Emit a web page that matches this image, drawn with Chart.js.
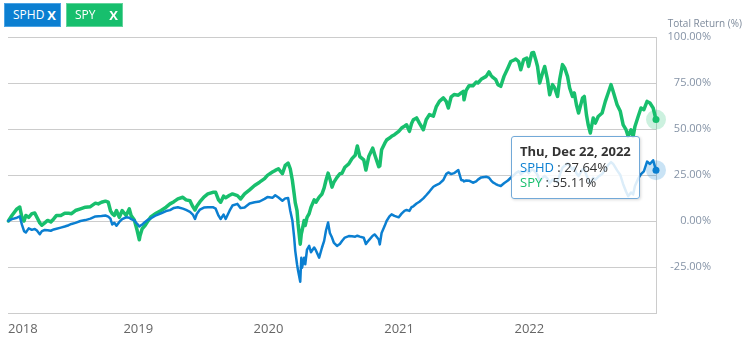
<!DOCTYPE html>
<html>
<head>
<meta charset="utf-8">
<script src="https://cdn.jsdelivr.net/npm/chart.js@4.4.0/dist/chart.umd.min.js"></script>
<style>
html,body{margin:0;padding:0;background:#fff;}
#wrap{position:relative;width:747px;height:340px;font-family:'Open Sans',sans-serif;overflow:hidden;}
#c{position:absolute;left:0;top:0;}
.btn{position:absolute;top:3px;height:22px;line-height:22px;color:#fff;font-size:12px;box-sizing:content-box;border:1px solid;}
.btn .t{position:absolute;left:8px;top:0;}
.btn .x{position:absolute;right:4px;top:0;font-weight:bold;font-size:13px;}
#ytitle{position:absolute;right:5px;top:16px;font-size:10px;color:#7d8a9b;white-space:nowrap;}
#tip{position:absolute;background:rgba(255,255,255,0.86);border:1px solid #72a9d8;border-radius:3px;padding:7px 8px 8px 8px;font-size:13px;line-height:15px;color:#333;white-space:nowrap;box-shadow:1px 1px 3px rgba(0,0,0,0.15);}
#tip .tt{font-weight:bold;margin-bottom:1px;}
</style>
</head>
<body>
<div id="wrap">
  <canvas id="c" width="747" height="340"></canvas>
  <div class="btn" style="left:4px;width:55px;background:#0b7fd1;border-color:#4aa3e4;"><span class="t">SPHD</span><span class="x">X</span></div>
  <div class="btn" style="left:66px;width:55px;background:#17bf6d;border-color:#62d49c;"><span class="t">SPY</span><span class="x">X</span></div>
  <div id="ytitle">Total Return (%)</div>
  <div id="tip"></div>
</div>
<script>
const dates = [
"2018-01-02","2018-01-12","2018-01-26","2018-02-03","2018-02-09","2018-02-15","2018-02-20","2018-02-28","2018-03-09","2018-03-17",
"2018-03-23","2018-03-31","2018-04-06","2018-04-14","2018-04-22","2018-05-01","2018-05-09","2018-05-17","2018-05-29","2018-06-09",
"2018-06-20","2018-06-28","2018-07-09","2018-07-23","2018-08-06","2018-08-20","2018-09-03","2018-09-11","2018-09-20","2018-10-01",
"2018-10-09","2018-10-15","2018-10-20","2018-10-26","2018-11-01","2018-11-09","2018-11-17","2018-11-28","2018-12-07","2018-12-12",
"2018-12-21","2018-12-26","2018-12-29","2019-01-04","2019-01-06","2019-01-12","2019-01-20","2019-01-29","2019-02-06","2019-02-20",
"2019-03-06","2019-03-20","2019-03-31","2019-04-11","2019-04-22","2019-05-06","2019-05-15","2019-05-26","2019-06-03","2019-06-09",
"2019-06-14","2019-06-23","2019-07-04","2019-07-15","2019-07-29","2019-08-06","2019-08-14","2019-08-20","2019-08-28","2019-09-03",
"2019-09-14","2019-09-22","2019-10-06","2019-10-15","2019-10-26","2019-11-09","2019-11-23","2019-12-07","2019-12-21","2019-12-29",
"2020-01-12","2020-01-20","2020-01-29","2020-02-09","2020-02-17","2020-02-25","2020-03-02","2020-03-08","2020-03-13","2020-03-16",
"2020-03-21","2020-03-24","2020-03-30","2020-04-02","2020-04-04","2020-04-10","2020-04-13","2020-04-18","2020-04-24","2020-04-29",
"2020-05-08","2020-05-13","2020-05-22","2020-05-30","2020-06-05","2020-06-10","2020-06-16","2020-06-21","2020-06-27","2020-07-02",
"2020-07-11","2020-07-19","2020-07-25","2020-08-02","2020-08-13","2020-08-22","2020-08-31","2020-09-06","2020-09-13","2020-09-24",
"2020-09-30","2020-10-08","2020-10-19","2020-10-25","2020-11-05","2020-11-08","2020-11-13","2020-11-22","2020-11-27","2020-12-05",
"2020-12-11","2020-12-19","2020-12-31","2021-01-08","2021-01-16","2021-01-22","2021-01-30","2021-02-05","2021-02-10","2021-02-19",
"2021-02-27","2021-03-10","2021-03-18","2021-03-27","2021-04-07","2021-04-15","2021-04-24","2021-05-05","2021-05-13","2021-05-19",
"2021-05-27","2021-06-04","2021-06-16","2021-06-24","2021-06-30","2021-07-02","2021-07-08","2021-07-16","2021-07-27","2021-08-05",
"2021-08-10","2021-08-19","2021-09-02","2021-09-10","2021-09-16","2021-09-21","2021-09-29","2021-10-05","2021-10-13","2021-10-22",
"2021-11-02","2021-11-10","2021-11-19","2021-11-24","2021-12-02","2021-12-08","2021-12-16","2021-12-25","2021-12-30","2022-01-08",
"2022-01-13","2022-01-19","2022-01-24","2022-01-30","2022-02-07","2022-02-13","2022-02-21","2022-02-27","2022-03-07","2022-03-13",
"2022-03-21","2022-03-27","2022-04-04","2022-04-10","2022-04-18","2022-04-24","2022-05-02","2022-05-07","2022-05-13","2022-05-19",
"2022-05-30","2022-06-04","2022-06-10","2022-06-15","2022-06-21","2022-06-29","2022-07-05","2022-07-13","2022-07-24","2022-08-02",
"2022-08-10","2022-08-18","2022-08-24","2022-09-04","2022-09-13","2022-09-21","2022-09-29","2022-10-05","2022-10-13","2022-10-19",
"2022-10-24","2022-11-02","2022-11-10","2022-11-18","2022-11-27","2022-12-05","2022-12-14","2022-12-22"
];

const sphd = [
0,1,1.8,2.5,-2,-5.5,-6.2,-4,-4.8,-4.3,
-5.2,-7.2,-5.5,-4.9,-5,-5.3,-4.6,-4.2,-3.6,-3,
-2.3,-1.6,-1,0,0.5,1.3,2.5,2.6,2.7,3,
2.4,1.3,-1.9,-1,-2.6,-0.5,1,2,1.8,1,
0.3,-1,-1.5,-3,-2.6,-2,-0.5,0.8,1.5,3.1,
4.2,5.4,5.9,7.1,7.5,6.7,6,5,3.5,1.1,
3.8,6.2,7.3,7.5,7.5,6.7,2.9,1.1,3.5,1.1,
5.6,8.4,9.3,7,7.3,9.5,10.2,10.6,12,13,
12.6,14,12.8,11,12.3,12.5,5.6,0.2,-9,-16.2,
-23.5,-27.1,-33,-20,-25.4,-20,-23.5,-15.5,-13.5,-17,
-14.4,-16,-19.9,-14.4,-10.8,-5.3,-0.8,-6.5,-9,-11.7,
-13.5,-12.5,-10.9,-9,-8.2,-8.3,-8.5,-8,-8.5,-9.1,
-12.5,-10.5,-8,-7.3,-10,-12.7,-6.5,-2.5,0,2.5,
3.6,2.8,2,4,5.5,6,5.5,7.5,8,9.5,
10.5,12.3,14,16,18.6,19.5,20.3,22.3,25.5,26.4,
25.5,26,27.7,22.3,22,21.5,22,21.9,20.8,21.5,
22.5,23.7,24.1,23.5,22,21,20.1,19.5,19,20.5,
22,23.5,25,26,27,25.5,26.5,27.5,26,28,
27.5,26.5,25,21.5,23.5,24.5,23,20.5,22.5,22,
21,25,29,30,31.5,30,28,29,26,24.5,
28,28.5,25,22.5,20.5,23.5,22.5,24,25.5,28,
30.5,32,31,27.5,25,20,16,13.5,15.5,14.5,
19,23,25.5,27,32.3,31,33,27.64
];

const spy = [
0,3,6.6,7.6,2,0,3,2,4,4.3,
2,-1,-2.3,-1,0.3,-0.5,1.1,3,3,4.2,
4.2,4,5.7,6.6,7.5,7.8,9.7,9.3,10.2,10.8,
10.2,5.7,4,3,5.7,2,5.7,3,6.6,3,
0.5,-3,-5.2,-10.2,-8,-4.2,-2.5,0.2,2.4,4.2,
5.7,7.5,9.3,10.5,12,12.9,11.5,11,7.8,6,
8,10.5,13,14.7,15.6,15.6,11.5,10.2,13.5,12.6,
14,14.7,13.8,12,14.7,16.9,19.3,21.1,23,24.8,
26.6,27.5,28.4,25.7,30.2,31.5,28.4,22,14.7,10,
5.6,-1.6,-12.6,-7,-5.3,0.3,-2.4,2,4,7.4,
11.5,10.2,13,14.7,18,22,26,23,18.4,21,
23.7,25.7,25.9,29.2,31,33.9,35.7,40.8,35,33.2,
27.7,35,39.6,35.9,29.5,30,38.7,42.3,44,45.1,
46,46.9,48.7,50.5,51.5,52.3,48.7,53,55,56,
53.2,49.6,55,57.8,57,62,65,66.9,65,61.4,
67.5,68.7,68.4,69.6,70.4,65.9,71,73.5,73.5,75.5,
75,77,78.6,81,79,78,76.8,74.1,73.2,78.6,
83.2,86.7,87.5,88,86.7,82.2,87.7,88.6,84,91.3,
91.6,87.7,84,75,80.4,84,76.8,68.6,74.1,72.3,
67.7,76.8,85,83.2,78.6,72.3,67.7,69.6,63.2,58.7,
66.8,67.7,57.8,52.3,47.8,56,53.2,56.8,58.7,65,
69.6,74.1,70.4,63.2,59.6,52.3,49.6,46,49.6,46,
51.4,56.8,61.4,60.5,65,64.1,61.4,55.11
];

const seriesNames = ['SPHD','SPY'];
const seriesColors = ['#0b7fd1','#18bf6d'];
const haloColors = ['rgba(11,127,209,0.22)','rgba(24,191,109,0.22)'];
const yearLabels = ['2018','2019','2020','2021','2022'];
const yTickValues = [-50,-25,0,25,50,75,100];

const base = Date.UTC(2018,0,1);
function dayOf(s){const p=s.split('-').map(Number);return (Date.UTC(p[0],p[1]-1,p[2])-base)/864e5;}
const xs = dates.map(dayOf);
const lastDay = xs[xs.length-1];
const yearDays = yearLabels.map(y=>dayOf(y+'-01-01'));

function mk(i, vals, w){
  return {
    label: seriesNames[i],
    data: xs.map((x,k)=>({x:x,y:vals[k]})),
    borderColor: seriesColors[i],
    backgroundColor: seriesColors[i],
    borderWidth: w,
    borderJoinStyle:'round',
    borderCapStyle:'round',
    pointRadius: 0,
    pointHoverRadius: 3.5,
    pointHoverBorderWidth: 13,
    pointHoverBackgroundColor: seriesColors[i],
    pointHoverBorderColor: haloColors[i],
    tension: 0,
    clip: false
  };
}

const chart = new Chart(document.getElementById('c'), {
  type:'line',
  data:{datasets:[mk(0,sphd,2.5), mk(1,spy,3.5)]},
  options:{
    responsive:false,
    animation:false,
    events:[],
    layout:{padding:{left:4,top:37,right:36,bottom:0}},
    plugins:{legend:{display:false},tooltip:{enabled:false},title:{display:false}},
    scales:{
      x:{
        type:'linear', min:0, max:lastDay,
        grid:{display:false, drawTicks:false},
        border:{display:true,color:'#cccccc'},
        afterBuildTicks:s=>{s.ticks = yearDays.map(v=>({value:v})).concat([{value:lastDay}]);},
        afterFit:s=>{s.height=27;},
        ticks:{align:'inner',padding:8,maxRotation:0,autoSkip:false,color:'#666666',
          font:{family:'Open Sans',size:13},
          callback:(v,i)=> i<yearLabels.length ? yearLabels[i] : ''}
      },
      y:{
        position:'right', min:-50, max:100,
        afterBuildTicks:s=>{s.ticks = yTickValues.map(v=>({value:v}));},
        afterFit:s=>{s.width=55;},
        grid:{color:'#cccccc',lineWidth:1,drawTicks:false},
        border:{display:true,color:'#cccccc'},
        ticks:{crossAlign:'far',padding:9,color:'#8593a6',font:{family:'Open Sans',size:11},
          callback:v=> v===-50 ? '' : v.toFixed(2)+'%'}
      }
    }
  }
});

const idx = dates.length-1;
chart.setActiveElements([{datasetIndex:0,index:idx},{datasetIndex:1,index:idx}]);
chart.render();

const days=['Sun','Mon','Tue','Wed','Thu','Fri','Sat'];
const months=['Jan','Feb','Mar','Apr','May','Jun','Jul','Aug','Sep','Oct','Nov','Dec'];
const p = dates[idx].split('-').map(Number);
const dt = new Date(Date.UTC(p[0],p[1]-1,p[2]));
const title = days[dt.getUTCDay()]+', '+months[dt.getUTCMonth()]+' '+dt.getUTCDate()+', '+dt.getUTCFullYear();
const tip = document.getElementById('tip');
tip.innerHTML = '<div class="tt">'+title+'</div>' +
  '<div><span style="color:'+seriesColors[0]+'">'+seriesNames[0]+'</span> : '+sphd[idx].toFixed(2)+'%</div>' +
  '<div><span style="color:'+seriesColors[1]+'">'+seriesNames[1]+'</span> : '+spy[idx].toFixed(2)+'%</div>';
const e0 = chart.getDatasetMeta(0).data[idx];
const e1 = chart.getDatasetMeta(1).data[idx];
const maxY = Math.max(e0.y, e1.y);
tip.style.left = (e0.x - 16 - tip.offsetWidth) + 'px';
tip.style.top = (maxY - 34) + 'px';
</script>
</body>
</html>
